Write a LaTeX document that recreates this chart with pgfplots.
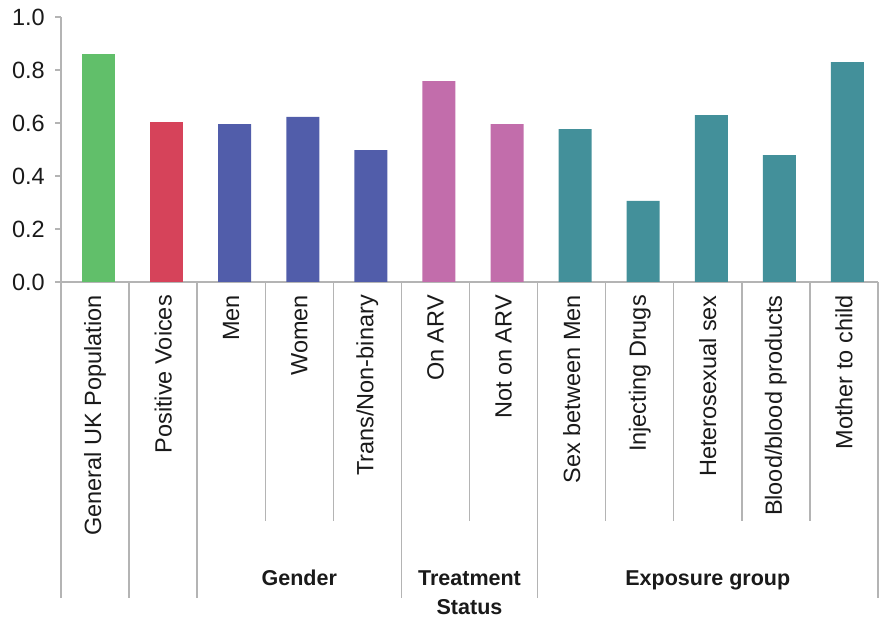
\documentclass[border=0pt]{standalone}
\usepackage{pgfplots}
\pgfplotsset{compat=1.18}
\usepackage{fontspec}
\setmainfont{Liberation Sans}
\definecolor{cgreen}{HTML}{61BF6A}
\definecolor{cred}{HTML}{D6435A}
\definecolor{cblue}{HTML}{515DAA}
\definecolor{cpink}{HTML}{C26DAB}
\definecolor{cteal}{HTML}{43909A}
\definecolor{axgray}{HTML}{B4B4B4}
\definecolor{txt}{HTML}{1A1A1A}
\begin{document}
\begin{tikzpicture}
\begin{axis}[
    name=ax,
    scale only axis,
    width=817pt, height=265pt,
    xmin=0, xmax=12, ymin=0, ymax=1,
    axis x line*=bottom, axis y line*=left,
    axis line style={draw=axgray, line width=1.3pt},
    tick align=outside, major tick length=6pt,
    ytick={0,0.2,0.4,0.6,0.8,1},
    ytick style={draw=axgray, line width=1.3pt},
    /pgf/number format/assume math mode=true,
    yticklabel style={/pgf/number format/fixed, /pgf/number format/fixed zerofill, /pgf/number format/precision=1},
    yticklabel style={font=\fontsize{23.5}{28}\selectfont, text=txt, inner sep=0pt, xshift=-10pt},
    xtick={0.5,1.5,2.5,3.5,4.5,5.5,6.5,7.5,8.5,9.5,10.5,11.5},
    xticklabels={General UK Population, Positive Voices, Men, Women, Trans/Non-binary, On ARV, Not on ARV, Sex between Men, Injecting Drugs, Heterosexual sex, Blood/blood products, Mother to child},
    xtick style={draw=none},
    xticklabel style={yshift=-7pt, rotate=90, anchor=east, inner sep=0pt, font=\fontsize{23.5}{28}\selectfont, text=txt},
]
\addplot[ybar, bar width=0.485, bar shift=3.5pt, fill=cgreen, draw=none] coordinates {(0.5,0.860)};
\addplot[ybar, bar width=0.485, bar shift=3.5pt, fill=cred, draw=none] coordinates {(1.5,0.604)};
\addplot[ybar, bar width=0.485, bar shift=3.5pt, fill=cblue, draw=none] coordinates {(2.5,0.596) (3.5,0.623) (4.5,0.498)};
\addplot[ybar, bar width=0.485, bar shift=3.5pt, fill=cpink, draw=none] coordinates {(5.5,0.758) (6.5,0.596)};
\addplot[ybar, bar width=0.485, bar shift=3.5pt, fill=cteal, draw=none] coordinates {(7.5,0.577) (8.5,0.306) (9.5,0.630) (10.5,0.479) (11.5,0.830)};
\end{axis}
% category separators below the axis
\foreach \k/\l in {0/316pt,1/316pt,2/316pt,3/239pt,4/239pt,5/316pt,6/239pt,7/316pt,8/239pt,9/239pt,10/239pt,11/239pt,12/316pt}
  \draw[axgray, line width=1.4pt] ([xshift=\k*68.0833pt]ax.south west) -- ++(0,-\l);
% group labels
\begin{scope}[every node/.style={anchor=base, inner sep=0pt, text=txt, font=\bfseries\fontsize{21.5}{26}\selectfont}]
  \node at ([xshift=3.5*68.0833pt, yshift=-303pt]ax.south west) {Gender};
  \node at ([xshift=6*68.0833pt, yshift=-303pt]ax.south west) {Treatment};
  \node at ([xshift=6*68.0833pt, yshift=-332pt]ax.south west) {Status};
  \node at ([xshift=9.5*68.0833pt, yshift=-303pt]ax.south west) {Exposure group};
\end{scope}
\path ([xshift=-61pt,yshift=-338pt]ax.south west) rectangle ([xshift=5pt,yshift=17pt]ax.north east);
\end{tikzpicture}
\end{document}
